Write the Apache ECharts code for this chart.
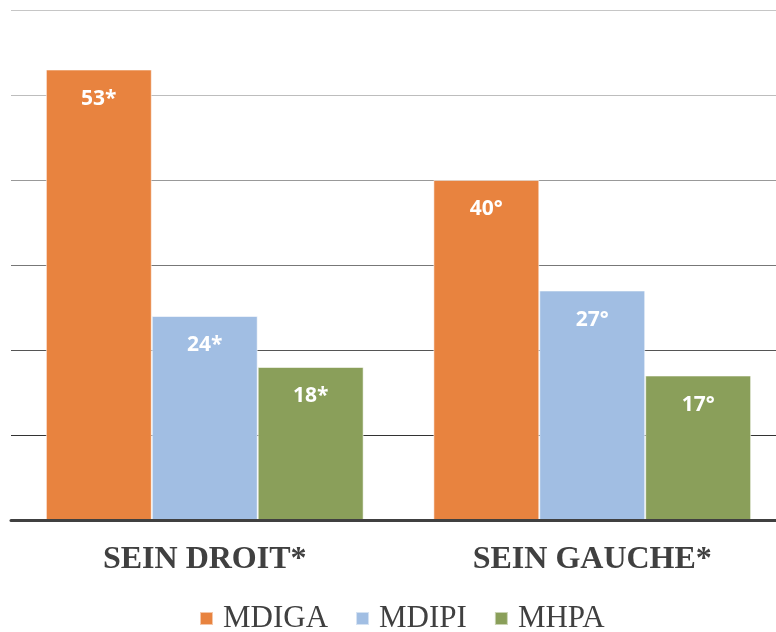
<!DOCTYPE html>
<html>
<head>
<meta charset="utf-8">
<script src="https://cdn.jsdelivr.net/npm/echarts@6/dist/echarts.min.js"></script>
<style>
  html, body { margin: 0; padding: 0; background: #ffffff; }
  #chart { width: 776px; height: 632px; }
</style>
</head>
<body>
<div id="chart"></div>
<script>
// Categories and series values
const categories = ['SEIN DROIT*', 'SEIN GAUCHE*'];
const seriesNames = ['MDIGA', 'MDIPI', 'MHPA'];
const mdiga = [53, 40];
const mdipi = [24, 27];
const mhpa = [18, 17];
// Significance marks shown after each value, per category
const marks = ['*', '°'];

const colors = ['#E8833F', '#A1BEE3', '#8A9F5A'];
const values = [mdiga, mdipi, mhpa];

const chart = echarts.init(document.getElementById('chart'));

const series = seriesNames.map((name, i) => ({
  name: name,
  type: 'bar',
  data: values[i],
  barGap: '0%',
  barCategoryGap: '18%',
  itemStyle: {
    color: colors[i],
    borderColor: 'rgba(255,255,255,0.55)',
    borderWidth: 1
  },
  label: {
    show: true,
    position: 'insideTop',
    distance: 19,
    color: '#ffffff',
    fontFamily: 'Open Sans',
    fontWeight: 'bold',
    fontSize: 21,
    formatter: p => p.value + marks[p.dataIndex]
  }
}));

chart.setOption({
  animation: false,
  backgroundColor: '#ffffff',
  color: colors,
  // the plot runs a little past the right edge of the canvas
  grid: { left: 11, right: -10, top: 10, bottom: 112, outerBoundsMode: 'none' },
  legend: {
    data: seriesNames,
    left: 194,
    top: 598,
    icon: 'rect',
    itemWidth: 13,
    itemHeight: 13,
    itemGap: 27,
    textStyle: {
      fontFamily: 'Liberation Serif',
      fontSize: 31,
      color: '#404040',
      padding: [0, 0, 0, 5]
    }
  },
  xAxis: {
    type: 'category',
    data: categories,
    axisTick: { show: false },
    axisLine: { lineStyle: { color: '#404040', width: 3 } },
    axisLabel: {
      margin: 24,
      fontFamily: 'Liberation Serif',
      fontWeight: 'bold',
      fontSize: 32,
      color: '#404040'
    },
    z: 5
  },
  yAxis: {
    type: 'value',
    min: 0,
    max: 60,
    interval: 10,
    axisLabel: { show: false },
    axisLine: { show: false },
    axisTick: { show: false },
    splitLine: {
      lineStyle: {
        width: 1,
        color: ['#404040', '#333333', '#555555', '#777777', '#999999', '#bdbdbd', '#c6c6c6']
      }
    }
  },
  series: series
});
</script>
</body>
</html>
